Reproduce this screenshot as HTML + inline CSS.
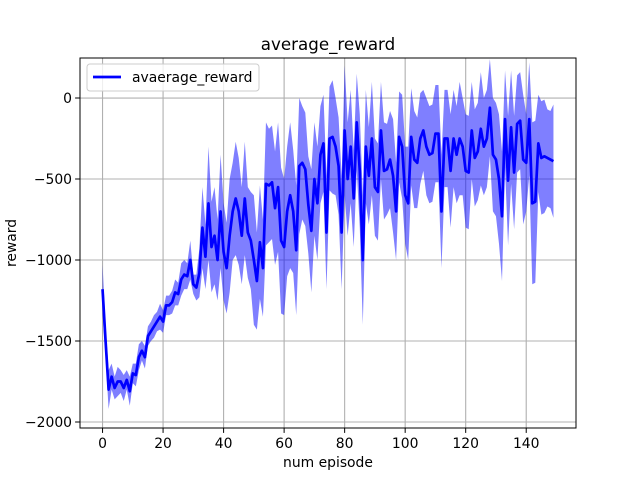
<!DOCTYPE html>
<html><head><meta charset="utf-8"><style>
body{margin:0;background:#fff;font-family:"DejaVu Sans","Liberation Sans",sans-serif}
</style></head><body>
<svg id="chart" width="640" height="480" xmlns="http://www.w3.org/2000/svg" font-family="DejaVu Sans, Liberation Sans, sans-serif"></svg>
<script>
const meanReward = [-1180,-1500,-1800,-1720,-1790,-1750,-1750,-1790,-1740,-1810,-1700,-1710,-1600,-1560,-1600,-1470,-1440,-1410,-1380,-1350,
-1380,-1280,-1280,-1260,-1200,-1210,-1120,-1090,-1100,-1000,-1150,-1170,-1080,-800,-980,-650,-920,-850,-1000,-700,
-950,-1050,-850,-700,-620,-700,-850,-620,-830,-880,-1000,-1130,-890,-1050,-530,-540,-520,-680,-550,-880,
-920,-700,-600,-700,-940,-420,-400,-440,-660,-820,-500,-650,-350,-280,-830,-250,-240,-300,-420,-830,
-200,-500,-300,-620,-150,-450,-1000,-300,-480,-250,-550,-580,-200,-450,-440,-380,-480,-700,-240,-300,
-600,-650,-240,-380,-400,-250,-200,-300,-350,-340,-220,-220,-700,-250,-250,-450,-250,-350,-250,-300,
-450,-460,-200,-370,-330,-190,-300,-250,-60,-350,-380,-500,-730,-130,-510,-180,-460,-160,-140,-380,
-400,-130,-650,-640,-280,-370,-360,-370,-380,-390];
const spreadReward = [150,100,120,80,70,90,70,80,60,90,60,70,80,60,70,60,60,70,60,80,
70,60,60,70,80,70,100,90,80,120,60,80,150,250,200,350,280,300,250,350,
300,280,350,300,350,330,300,350,280,300,400,300,350,300,380,350,350,350,400,450,
420,400,450,380,400,420,350,350,300,380,350,350,300,300,350,320,350,300,300,350,
400,350,350,300,300,350,400,350,300,350,300,300,300,300,280,300,350,300,280,320,
300,350,300,300,280,280,250,300,300,300,300,300,350,300,300,350,300,300,350,300,
350,350,300,300,300,350,300,300,300,350,350,400,400,300,400,350,350,300,300,400,
300,350,500,500,300,350,350,300,300,350];
const xTicks = [0,20,40,60,80,100,120,140];
const yTicks = [0,-500,-1000,-1500,-2000];

const L=80,R=576,T=58,B=428;
const xMin=-7.45,xMax=156.45,yMin=-2037,yMax=247;
const sx=v=>L+(v-xMin)/(xMax-xMin)*(R-L);
const sy=v=>B-(v-yMin)/(yMax-yMin)*(B-T);
const svg=document.getElementById('chart');
const NS='http://www.w3.org/2000/svg';
function mk(tag,attrs,parent){const e=document.createElementNS(NS,tag);for(const k in attrs)e.setAttribute(k,attrs[k]);(parent||svg).appendChild(e);return e;}

xTicks.forEach(t=>{const g=mk('line',{x1:sx(t),x2:sx(t),y1:T,y2:B,stroke:'#b0b0b0','stroke-width':1.1});

});
yTicks.forEach(t=>{const g=mk('line',{x1:L,x2:R,y1:sy(t),y2:sy(t),stroke:'#b0b0b0','stroke-width':1.1});

});

let up=meanReward.map((m,i)=>sx(i)+','+sy(m+spreadReward[i]));
let lo=meanReward.map((m,i)=>sx(i)+','+sy(m-spreadReward[i])).reverse();
const band=mk('polygon',{points:up.concat(lo).join(' '),fill:'#0000ff','fill-opacity':0.5,stroke:'none'});


const line=mk('polyline',{points:meanReward.map((m,i)=>sx(i)+','+sy(m)).join(' '),fill:'none',stroke:'#0000ff','stroke-width':2.7,'stroke-linejoin':'round'});



const fr=mk('rect',{x:L,y:T,width:R-L,height:B-T,fill:'none',stroke:'#000','stroke-width':1});



xTicks.forEach(t=>{mk('line',{x1:sx(t),x2:sx(t),y1:B,y2:B+4.9,stroke:'#000','stroke-width':1});
const tx=mk('text',{x:sx(t),y:B+20,'text-anchor':'middle','font-size':13.9,fill:'#000'});tx.textContent=t;

});
yTicks.forEach(t=>{mk('line',{x1:L-4.9,x2:L,y1:sy(t),y2:sy(t),stroke:'#000','stroke-width':1});
const tx=mk('text',{x:L-8,y:sy(t)+5,'text-anchor':'end','font-size':13.9,fill:'#000'});tx.textContent=t<0?'\u2212'+(-t):t;

});

let e=mk('text',{x:(L+R)/2,y:T-8,'text-anchor':'middle','font-size':16.7});e.textContent='average_reward';


e=mk('text',{x:(L+R)/2,y:467,'text-anchor':'middle','font-size':13.9});e.textContent='num episode';


e=mk('text',{x:16,y:(T+B)/2,'text-anchor':'middle','font-size':13.9,transform:'rotate(-90 16 '+(T+B)/2+')'});e.textContent='reward';



const lg=mk('g',{});


mk('rect',{x:87,y:64,width:172,height:27,rx:3,fill:'#fff','fill-opacity':0.8,stroke:'#ccc','stroke-width':1},lg);
mk('line',{x1:93,x2:121,y1:77,y2:77,stroke:'#0000ff','stroke-width':2.7},lg);
e=mk('text',{x:132,y:82,'font-size':13.9},lg);e.textContent='avaerage_reward';


</script>
</body></html>
